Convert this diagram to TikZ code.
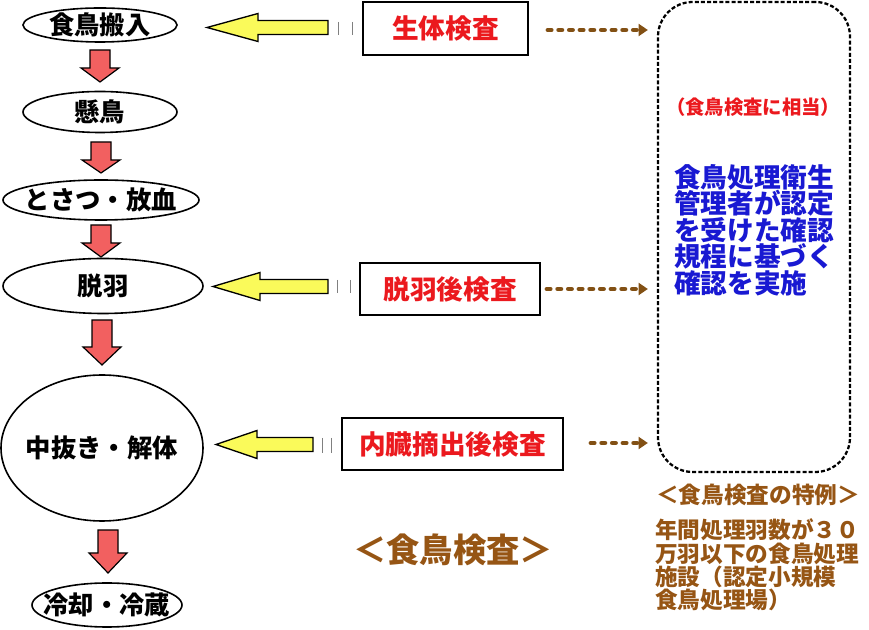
\documentclass[tikz,border=0pt]{standalone}
\usepackage{fontspec}
\setmainfont{Noto Sans CJK JP}
\usetikzlibrary{shapes.geometric,arrows.meta,calc}
\definecolor{arrred}{RGB}{242,96,96}
\definecolor{arryel}{RGB}{250,250,90}
\definecolor{txtred}{RGB}{235,25,30}
\definecolor{txtblue}{RGB}{25,25,210}
\definecolor{txtbrown}{RGB}{150,85,20}
\definecolor{dashbrown}{RGB}{130,80,20}
\newcommand\redblock[4]{%
  \draw[redarr] ({#1-10},#2) -- ({#1+10},#2) -- ({#1+10},#3) -- ({#1+19},#3) -- (#1,#4) -- ({#1-19},#3) -- ({#1-10},#3) -- cycle;}
\newcommand\yelblock[4]{%
  \draw[yelarr] (#1,#2) -- (#3,{#2-14}) -- (#3,{#2-7}) -- (#4,{#2-7}) -- (#4,{#2+7}) -- (#3,{#2+7}) -- (#3,{#2+14}) -- cycle;}
\begin{document}
\begin{tikzpicture}[x=0.75pt,y=-0.75pt,
  proc/.style={ellipse, draw, line width=1.2pt, inner sep=0pt},
  plabel/.style={font=\fontsize{19}{21}\selectfont\bfseries, inner sep=0pt},
  insp/.style={draw, line width=1.5pt, inner sep=0pt, font=\fontsize{20}{22}\selectfont\bfseries, text=txtred},
  redarr/.style={fill=arrred, draw=black, line width=0.9pt},
  yelarr/.style={fill=arryel, draw=black, line width=1pt},
  ticks/.style={draw=gray, line width=0.6pt},
  brdash/.style={draw=dashbrown, line width=3.6pt, dash pattern=on 2.4pt off 5.6pt, line cap=round, -{Triangle[length=7pt,width=9pt]}},
  ]
\useasboundingbox (0,0) rectangle (869,630);

% process ellipses
\node[proc, minimum width=154*0.75pt, minimum height=34*0.75pt, label={[plabel]center:食鳥搬入}] (n1) at (100,25) {};
\node[proc, minimum width=154*0.75pt, minimum height=41*0.75pt, label={[plabel]center:懸鳥}] (n2) at (100,112) {};
\node[proc, minimum width=196*0.75pt, minimum height=40*0.75pt, label={[plabel]center:とさつ・放血}] (n3) at (101,200) {};
\node[proc, minimum width=200*0.75pt, minimum height=55*0.75pt, label={[plabel]center:脱羽}] (n4) at (103,286) {};
\node[proc, minimum width=202*0.75pt, minimum height=146*0.75pt, label={[plabel]center:中抜き・解体}] (n5) at (102,448) {};
\node[proc, minimum width=150*0.75pt, minimum height=44*0.75pt, label={[plabel]center:冷却・冷蔵}] (n6) at (107,605) {};

% red block arrows
\redblock{100}{50}{68}{82}
\redblock{101}{142}{160}{173}
\redblock{101}{225}{243}{257}
\redblock{102}{320}{347}{365}
\redblock{108}{530}{553}{573}

% inspection boxes
\node[insp, minimum width=165*0.75pt, minimum height=53*0.75pt] (b1) at (445.5,28.5) {生体検査};
\node[insp, minimum width=180*0.75pt, minimum height=52*0.75pt] (b2) at (450,289) {脱羽後検査};
\node[insp, minimum width=221*0.75pt, minimum height=52*0.75pt] (b3) at (452.5,444) {内臓摘出後検査};

% yellow arrows
\yelblock{207}{27.5}{258}{328}
\yelblock{213}{286.5}{260}{328}
\yelblock{216}{444.5}{257}{313}

% tick marks
\draw[ticks] (338,22) -- (338,35) (352,22) -- (352,35);
\draw[ticks] (337,280) -- (337,293) (350,280) -- (350,293);
\draw[ticks] (322,438) -- (322,453) (331,438) -- (331,453);

% big dotted box
\node[draw, line width=1.7pt, dash pattern=on 3pt off 1.6pt, rounded corners=26pt,
      minimum width=192*0.75pt, minimum height=470*0.75pt] (big) at (754,237) {};

% brown dashed arrows
\draw[brdash] ($(b1.east)+(19,1.5)$) -- ($(big.west |- b1.east)+(-9,1.5)$);
\draw[brdash] ($(b2.east)+(6,0)$) -- ($(big.west |- b2.east)+(-9,0)$);
\draw[brdash] ($(b3.east)+(27,-1)$) -- ($(big.west |- b3.east)+(-9,-1)$);

% texts in big box
\node[text=txtred, font=\fontsize{14.5}{16}\selectfont\bfseries] (teq) at (753,107) {（食鳥検査に相当）};
\node[text=txtblue, font=\fontsize{20}{19.9}\selectfont\bfseries, align=left, anchor=west, inner sep=0pt] (tblue) at (674,230)
  {食鳥処理衛生\\管理者が認定\\を受けた確認\\規程に基づく\\確認を実施};

% special case texts
\node[text=txtbrown, font=\fontsize{17}{19}\selectfont\bfseries] (tsp) at (758,495) {＜食鳥検査の特例＞};
\node[text=txtbrown, font=\fontsize{17}{17.6}\selectfont\bfseries, align=left, anchor=west, inner sep=0pt] (tsp2) at (655,565)
  {年間処理羽数が３０\\万羽以下の食鳥処理\\施設（認定小規模\\食鳥処理場）};

% title
\node[text=txtbrown, font=\fontsize{25}{27}\selectfont\bfseries] (title) at (453,550) {＜食鳥検査＞};
\end{tikzpicture}
\end{document}
